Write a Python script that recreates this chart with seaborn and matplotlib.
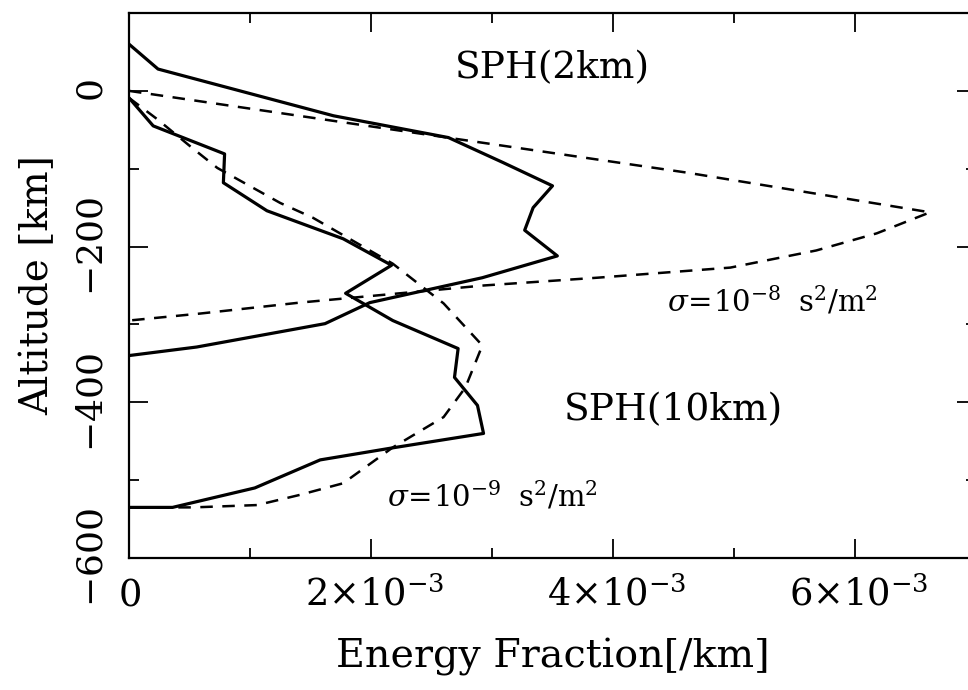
import numpy as np
import pandas as pd
import matplotlib
matplotlib.use("Agg")
import matplotlib.pyplot as plt
import matplotlib.transforms as mtransforms
import seaborn as sns

# Energy fraction per km (in units of 1e-3) versus altitude [km]
sph2_energy = [0.00, 0.24, 1.69, 2.64, 3.09, 3.50, 3.34, 3.27, 3.54, 2.92, 1.99, 1.62, 0.56, 0.00]
sph2_alt = [60, 28, -32, -60, -92, -122, -150, -179, -212, -240, -272, -299, -329, -340]

sig8_energy = [0.00, 2.63, 4.61, 6.62, 6.18, 5.68, 4.97, 3.87, 2.93, 1.41, 0.59, 0.00]
sig8_alt = [0, -60, -105, -156, -183, -205, -227, -240, -250, -272, -286, -295]

sph10_energy = [0.00, 0.20, 0.79, 0.78, 1.14, 1.77, 2.17, 1.79, 2.18, 2.72, 2.69, 2.88, 2.93,
                2.16, 1.58, 1.04, 0.36, 0.00]
sph10_alt = [-9, -45, -81, -118, -154, -190, -224, -260, -295, -331, -368, -404, -440,
             -459, -474, -510, -535, -535]

sig9_energy = [0.00, 0.23, 0.52, 0.73, 1.25, 1.52, 2.18, 2.60, 2.92, 2.78, 2.60, 2.18, 1.77,
               1.41, 1.06, 0.53, 0.00]
sig9_alt = [-9, -36, -73, -99, -144, -163, -222, -273, -327, -381, -419, -458, -504,
            -519, -532, -535, -535]

x_ticks = [0, 2e-3, 4e-3, 6e-3]
x_tick_labels = [r"$0$", r"$2{\times}10^{-3}$", r"$4{\times}10^{-3}$", r"$6{\times}10^{-3}$"]
y_ticks = [-600, -400, -200, 0]
y_tick_labels = [r"$-600$", r"$-400$", r"$-200$", r"$0$"]

sns.set_style("ticks")
plt.rcParams.update({
    "font.family": ["DejaVu Serif"],
    "mathtext.fontset": "dejavuserif",
    "axes.formatter.use_mathtext": True,
    "text.color": "black",
    "axes.labelcolor": "black",
    "xtick.color": "black",
    "ytick.color": "black",
    "axes.edgecolor": "black",
})


def frame(energy, alt):
    return pd.DataFrame({"energy": np.array(energy) * 1e-3, "alt": alt})


fig = plt.figure(figsize=(9.68, 6.9), dpi=100)
ax = fig.add_axes([129 / 968, 1 - 558 / 690, (976 - 129) / 968, (558 - 13) / 690])

solid = dict(color="black", lw=2.3, linestyle="-")
dashed = dict(color="black", lw=1.8, linestyle=(0, (5.0, 3.8)))

sns.lineplot(data=frame(sph2_energy, sph2_alt), x="energy", y="alt", sort=False,
             estimator=None, ax=ax, **solid)
sns.lineplot(data=frame(sig8_energy, sig8_alt), x="energy", y="alt", sort=False,
             estimator=None, ax=ax, **dashed)
sns.lineplot(data=frame(sph10_energy, sph10_alt), x="energy", y="alt", sort=False,
             estimator=None, ax=ax, **solid)
sns.lineplot(data=frame(sig9_energy, sig9_alt), x="energy", y="alt", sort=False,
             estimator=None, ax=ax, **dashed)

ax.set_xlim(0, 7e-3)
ax.set_ylim(-600, 100)

ax.tick_params(which="both", direction="in", top=True, right=True, width=1.3,
               colors="black")
ax.tick_params(which="major", length=13.5)
ax.tick_params(which="minor", length=7)
ax.tick_params(axis="x", which="major", pad=34)
ax.tick_params(axis="y", which="major", pad=14)

ax.set_xticks(x_ticks)
ax.set_xticks(np.arange(0, 7.01e-3, 1e-3), minor=True)
ax.set_yticks(y_ticks)
ax.set_yticks(np.arange(-600, 101, 100), minor=True)
ax.set_xticklabels(x_tick_labels, fontsize=26.5, va="baseline")
ax.set_yticklabels(y_tick_labels, fontsize=26, rotation=90, va="center")

# nudge the exponent labels slightly to the right of their ticks
shift = mtransforms.ScaledTranslation(0.04, 0, fig.dpi_scale_trans)
for lab in ax.get_xticklabels()[1:]:
    lab.set_transform(lab.get_transform() + shift)

for sp in ax.spines.values():
    sp.set_linewidth(1.6)
    sp.set_color("black")

ax.set_xlabel("Energy Fraction[/km]", fontsize=28.5, labelpad=18)
ax.set_ylabel("Altitude [km]", fontsize=28, labelpad=14)

ax.text(3.50e-3, 29, "SPH(2km)", fontsize=27, ha="center", va="center")
ax.text(4.50e-3, -410, "SPH(10km)", fontsize=27, ha="center", va="center")
ax.text(4.45e-3, -270, r"$\sigma\!=\!10^{-8}\;\ \mathrm{s^2/m^2}$", fontsize=21,
        ha="left", va="center")
ax.text(2.13e-3, -520, r"$\sigma\!=\!10^{-9}\;\ \mathrm{s^2/m^2}$", fontsize=21,
        ha="left", va="center")

fig.savefig("out.png", dpi=100)
